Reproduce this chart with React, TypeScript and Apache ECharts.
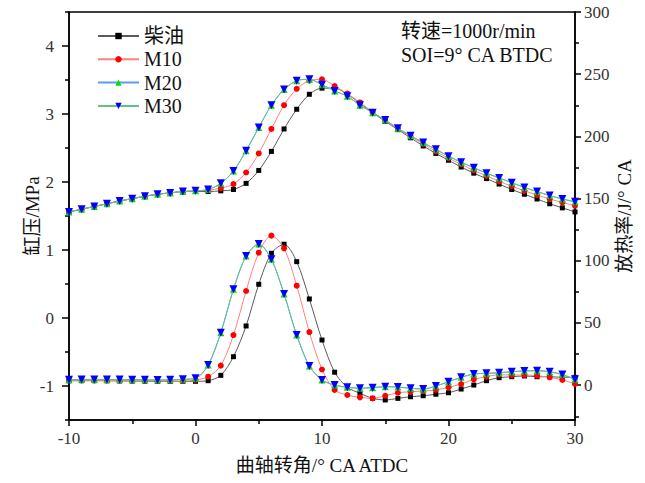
import React, { useEffect, useRef } from "react";
import * as echarts from "echarts";

const angles = [-10, -9, -8, -7, -6, -5, -4, -3, -2, -1, 0, 1, 2, 3, 4, 5, 6, 7, 8, 9, 10, 11, 12, 13, 14, 15, 16, 17, 18, 19, 20, 21, 22, 23, 24, 25, 26, 27, 28, 29, 30];

const seriesNames = ["柴油", "M10", "M20", "M30"];

// Cylinder pressure, MPa (left axis)
const dieselPressure = [1.56, 1.6, 1.64, 1.68, 1.72, 1.755, 1.79, 1.82, 1.84, 1.86, 1.86, 1.86, 1.87, 1.89, 1.98, 2.17, 2.45, 2.78, 3.07, 3.29, 3.38, 3.38, 3.29, 3.16, 3.02, 2.89, 2.77, 2.65, 2.53, 2.42, 2.32, 2.22, 2.13, 2.05, 1.97, 1.89, 1.82, 1.75, 1.68, 1.62, 1.56];
const m10Pressure = [1.56, 1.6, 1.64, 1.68, 1.72, 1.755, 1.79, 1.82, 1.84, 1.86, 1.87, 1.88, 1.91, 1.97, 2.14, 2.42, 2.78, 3.13, 3.37, 3.49, 3.51, 3.41, 3.3, 3.17, 3.03, 2.9, 2.78, 2.67, 2.56, 2.45, 2.35, 2.26, 2.17, 2.09, 2.01, 1.94, 1.87, 1.81, 1.75, 1.7, 1.65];
const m30Pressure = [1.56, 1.6, 1.64, 1.68, 1.72, 1.755, 1.79, 1.82, 1.84, 1.86, 1.87, 1.89, 1.98, 2.16, 2.46, 2.8, 3.13, 3.36, 3.49, 3.51, 3.43, 3.34, 3.26, 3.13, 3.02, 2.91, 2.79, 2.68, 2.58, 2.48, 2.38, 2.29, 2.21, 2.13, 2.06, 1.99, 1.92, 1.86, 1.8, 1.75, 1.71];
const m20Pressure = [1.56, 1.6, 1.64, 1.68, 1.72, 1.755, 1.79, 1.82, 1.84, 1.86, 1.87, 1.89, 1.98, 2.16, 2.46, 2.8, 3.13, 3.36, 3.49, 3.51, 3.43, 3.34, 3.26, 3.13, 3.02, 2.91, 2.79, 2.68, 2.58, 2.48, 2.38, 2.29, 2.21, 2.13, 2.06, 1.99, 1.92, 1.86, 1.8, 1.75, 1.71];

// Heat release rate, J/°CA (right axis)
const dieselHrr = [3.5, 3.6, 3.6, 3.5, 3.4, 3.3, 3.2, 3.1, 3.1, 3.1, 3.1, 3.6, 7.9, 22.9, 47.6, 81.1, 106.0, 113.3, 99.3, 69.3, 36.3, 10.4, -1.7, -6.5, -10.6, -11.9, -10.6, -9.3, -8.5, -7.3, -6.1, -3.1, 0.1, 3.6, 6.0, 6.8, 7.4, 6.8, 6.8, 6.3, 6.3];
const m10Hrr = [3.8, 3.9, 3.9, 3.8, 3.7, 3.6, 3.5, 3.4, 3.3, 3.3, 4.2, 6.8, 15.7, 40.3, 75.7, 106.5, 120.2, 110.0, 80.0, 42.7, 12.6, -3.9, -7.9, -9.8, -10.6, -8.5, -6.1, -5.3, -4.7, -3.9, -1.7, 0.9, 4.7, 6.8, 8.4, 8.2, 8.2, 7.6, 6.3, 4.2, 1.0];
const m30Hrr = [4.3, 4.5, 4.6, 4.6, 4.5, 4.4, 4.3, 4.2, 4.3, 4.7, 5.5, 16.2, 42.2, 77.1, 103.8, 113.5, 101.2, 73.3, 40.3, 15.4, 4.2, 0.1, -1.7, -2.5, -2.0, -1.2, -1.5, -2.5, -3.1, -0.7, 2.8, 6.3, 9.0, 9.5, 10.0, 10.8, 11.4, 11.6, 10.8, 8.5, 4.7];
const m20Hrr = [4.3, 4.5, 4.6, 4.6, 4.5, 4.4, 4.3, 4.2, 4.3, 4.7, 5.5, 16.2, 42.2, 77.1, 103.8, 113.5, 101.2, 73.3, 40.3, 15.4, 4.2, 0.1, -1.7, -2.5, -2.0, -1.2, -1.5, -2.5, -3.1, -0.7, 2.8, 6.3, 9.0, 9.5, 10.0, 10.8, 11.4, 11.6, 10.8, 8.5, 4.7];

const leftLabels = [-1, 0, 1, 2, 3, 4];
const leftMinor = [-1.5, -0.5, 0.5, 1.5, 2.5, 3.5, 4.5];
const rightLabels = [0, 50, 100, 150, 200, 250, 300];
const rightMinor = [-25, 25, 75, 125, 175, 225, 275];

const SERIF = "'Liberation Serif', 'Noto Sans CJK SC', serif";

const styles = [
  { symbol: "rect", size: 5, marker: "#000000", line: "#5a5a5a" },
  { symbol: "circle", size: 6, marker: "#ff0000", line: "#ff8080" },
  { symbol: "triangle", size: 7, marker: "#00e000", line: "#5b9cf0" },
  { symbol: "path://M0,0 L10,0 L5,9 Z", size: 8, marker: "#0000ff", line: "#62c285" },
];

export default function App() {
  const ref = useRef<HTMLDivElement>(null);
  useEffect(() => {
    document.body.style.margin = "0";
    const chart = echarts.init(ref.current!, null, { renderer: "svg" });
    const pressures = [dieselPressure, m10Pressure, m20Pressure, m30Pressure];
    const hrrs = [dieselHrr, m10Hrr, m20Hrr, m30Hrr];
    const mk = (name: string, vals: number[], axis: number, i: number) => ({
      name,
      type: "line",
      yAxisIndex: axis,
      data: angles.map((a, k) => [a, vals[k]]),
      smooth: 0.3,
      symbol: styles[i].symbol,
      symbolSize: styles[i].size,
      showSymbol: true,
      lineStyle: { color: styles[i].line, width: 1 },
      itemStyle: { color: styles[i].marker, borderWidth: 0 },
      z: 2 + i,
    });
    const series: any[] = [];
    seriesNames.forEach((n, i) => {
      series.push(mk(n, pressures[i], 0, i));
      series.push(mk(n, hrrs[i], 1, i));
    });
    const axisLine = { show: true, onZero: false, lineStyle: { color: "#000", width: 1.5 } };
    chart.setOption({
      animation: false,
      grid: { left: 69, right: 70, top: 12, bottom: 63, show: true, borderColor: "#000", borderWidth: 1.5 },
      legend: {
        data: seriesNames,
        orient: "vertical",
        left: 92,
        top: 21,
        itemWidth: 41,
        itemHeight: 8,
        itemGap: 3.3,
        textStyle: { fontFamily: SERIF, fontSize: 20, lineHeight: 20, color: "#111" },
      },
      xAxis: {
        type: "value",
        min: -10,
        max: 30,
        interval: 10,
        axisLine,
        axisTick: { show: true, inside: false, length: 6, lineStyle: { color: "#000", width: 1.5 } },
        minorTick: { show: true, splitNumber: 2, length: 4, lineStyle: { color: "#000", width: 1.5 } },
        splitLine: { show: false },
        axisLabel: { fontFamily: SERIF, fontSize: 17, color: "#333", margin: 10 },
        name: "曲轴转角/° CA ATDC",
        nameLocation: "middle",
        nameGap: 36,
        nameMoveOverlap: false,
        nameTextStyle: { fontFamily: SERIF, fontSize: 19, color: "#111" },
      },
      yAxis: [
        {
          type: "value",
          position: "left",
          min: -1.5,
          max: 4.5,
          axisLine,
          axisTick: { show: true, length: 7, customValues: leftLabels, lineStyle: { color: "#000", width: 1.5 } },
          axisLabel: { customValues: leftLabels, fontFamily: SERIF, fontSize: 17, color: "#333", margin: 15 },
          splitLine: { show: false },
          name: "缸压/MPa",
          nameLocation: "middle",
          nameRotate: 90,
          nameGap: 27,
          nameMoveOverlap: false,
          nameTextStyle: { fontFamily: SERIF, fontSize: 19, color: "#111" },
        },
        {
          type: "value",
          position: "right",
          min: -28,
          max: 300,
          axisLine,
          axisTick: { show: true, length: 6, customValues: rightLabels, lineStyle: { color: "#000", width: 1.5 } },
          axisLabel: { customValues: rightLabels, fontFamily: SERIF, fontSize: 17, color: "#333", margin: 9 },
          splitLine: { show: false },
          name: "放热率/J/° CA",
          nameLocation: "middle",
          nameRotate: 90,
          nameGap: 40,
          nameMoveOverlap: false,
          nameTextStyle: { fontFamily: SERIF, fontSize: 19, color: "#111" },
        },
        {
          type: "value",
          position: "left",
          min: -1.5,
          max: 4.5,
          axisLine: { show: false, onZero: false },
          axisTick: { show: true, length: 4, customValues: leftMinor, lineStyle: { color: "#000", width: 1.5 } },
          axisLabel: { show: false },
          splitLine: { show: false },
        },
        {
          type: "value",
          position: "right",
          min: -28,
          max: 300,
          axisLine: { show: false, onZero: false },
          axisTick: { show: true, length: 4, customValues: rightMinor, lineStyle: { color: "#000", width: 1.5 } },
          axisLabel: { show: false },
          splitLine: { show: false },
        },
      ],
      graphic: [
        { type: "text", x: 401, y: 21, style: { text: "转速=1000r/min", font: `20px ${SERIF}`, fill: "#111" } },
        { type: "text", x: 401, y: 45, style: { text: "SOI=9° CA BTDC", font: `20px ${SERIF}`, fill: "#111" } },
      ],
      series,
    });
    return () => chart.dispose();
  }, []);
  return <div ref={ref} style={{ width: 645, height: 483 }} />;
}
